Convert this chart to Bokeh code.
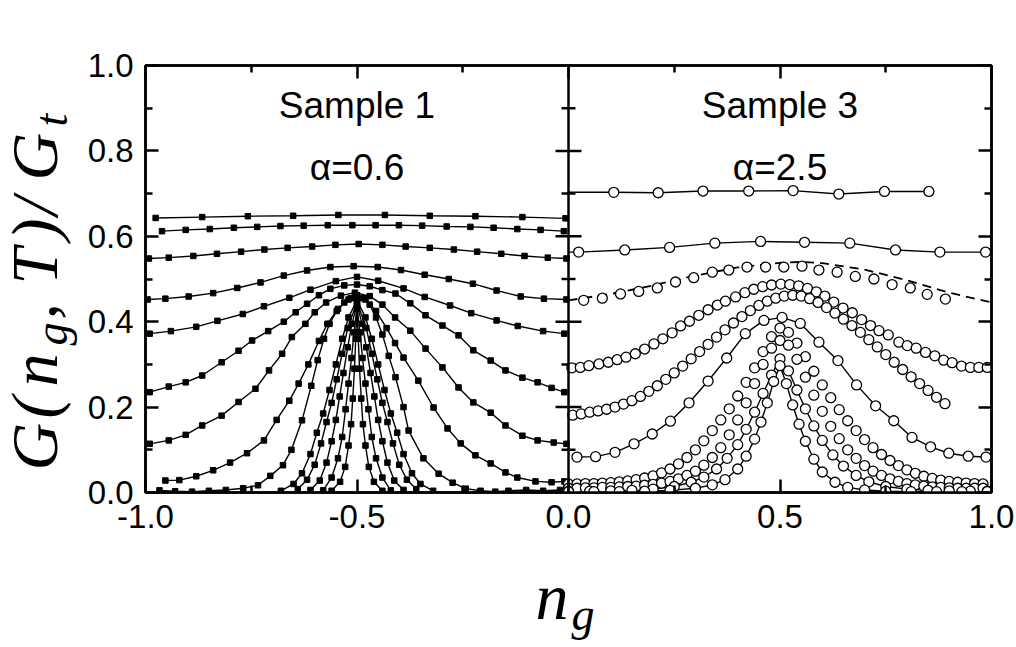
import math
from bokeh.plotting import figure
from bokeh.models import Range1d, LinearAxis, FixedTicker, PrintfTickFormatter, Span, Label
from bokeh.core.properties import value
from bokeh.embed import file_html
from bokeh.resources import INLINE

# ---------------- tick values ----------------
y_major = [0.0, 0.2, 0.4, 0.6, 0.8, 1.0]
y_minor = [0.1, 0.3, 0.5, 0.7, 0.9]
x_major = [-1.0, -0.5, 0.0, 0.5, 1.0]
x_minor = [-0.75, -0.25, 0.25, 0.75]
div_major = [0.2, 0.4, 0.6, 0.8]
div_minor = [0.1, 0.3, 0.5, 0.7, 0.9]

# ---------------- Sample 1 (alpha = 0.6), filled squares ----------------
L1_x = [-0.976, -0.866, -0.758, -0.651, -0.544, -0.434, -0.328, -0.220, -0.109, -0.007]
L1_y = [0.643, 0.645, 0.647, 0.648, 0.650, 0.650, 0.648, 0.647, 0.645, 0.642]

L2_x = [-0.961, -0.905, -0.848, -0.791, -0.736, -0.681, -0.626, -0.569, -0.511, -0.456,
        -0.401, -0.346, -0.288, -0.232, -0.177, -0.121, -0.066, -0.011]
L2_y = [0.612, 0.615, 0.617, 0.620, 0.622, 0.624, 0.625, 0.626, 0.626, 0.626,
        0.626, 0.625, 0.623, 0.622, 0.620, 0.617, 0.615, 0.612]

L3_x = [-0.992, -0.945, -0.887, -0.831, -0.774, -0.719, -0.664, -0.606, -0.551, -0.496,
        -0.440, -0.385, -0.328, -0.271, -0.216, -0.159, -0.104, -0.049, -0.005]
L3_y = [0.548, 0.550, 0.554, 0.559, 0.564, 0.569, 0.573, 0.576, 0.580, 0.582,
        0.580, 0.576, 0.573, 0.569, 0.564, 0.559, 0.554, 0.550, 0.548]

L4_x = [-0.995, -0.953, -0.898, -0.840, -0.783, -0.728, -0.673, -0.618, -0.563, -0.508,
        -0.451, -0.396, -0.340, -0.283, -0.226, -0.170, -0.113, -0.058, -0.005]
L4_y = [0.452, 0.454, 0.459, 0.467, 0.479, 0.492, 0.508, 0.520, 0.528, 0.530,
        0.528, 0.521, 0.510, 0.500, 0.489, 0.473, 0.459, 0.454, 0.452]

L5_x = [-0.99, -0.94, -0.88, -0.83, -0.77, -0.72, -0.66, -0.61, -0.55, -0.50,
        -0.45, -0.39, -0.34, -0.28, -0.23, -0.17, -0.12, -0.06, -0.01]
L5_y = [0.372, 0.378, 0.388, 0.402, 0.418, 0.436, 0.456, 0.475, 0.495, 0.505,
        0.496, 0.478, 0.458, 0.438, 0.420, 0.403, 0.390, 0.378, 0.372]

L6_x = [-0.99, -0.945, -0.905, -0.866, -0.82, -0.78, -0.748, -0.71, -0.673, -0.645,
        -0.618, -0.59, -0.563, -0.53, -0.50, -0.47, -0.44, -0.409, -0.374, -0.338,
        -0.298, -0.26, -0.225, -0.184, -0.149, -0.109, -0.073, -0.04, -0.01]
L6_y = [0.235, 0.248, 0.258, 0.274, 0.305, 0.332, 0.356, 0.378, 0.400, 0.422,
        0.442, 0.462, 0.477, 0.485, 0.487, 0.483, 0.474, 0.466, 0.443, 0.415,
        0.391, 0.368, 0.333, 0.309, 0.286, 0.269, 0.258, 0.245, 0.235]

L7_x = [-0.99, -0.945, -0.905, -0.866, -0.82, -0.78, -0.74, -0.708, -0.677, -0.654,
        -0.622, -0.60, -0.573, -0.538, -0.505, -0.47, -0.44, -0.41, -0.374, -0.338,
        -0.298, -0.26, -0.225, -0.184, -0.149, -0.109, -0.073, -0.035, -0.005]
L7_y = [0.114, 0.122, 0.135, 0.157, 0.180, 0.212, 0.243, 0.286, 0.325, 0.364,
        0.395, 0.422, 0.445, 0.461, 0.468, 0.460, 0.440, 0.410, 0.379, 0.337,
        0.293, 0.246, 0.211, 0.187, 0.157, 0.133, 0.122, 0.117, 0.114]

L8_x = [-0.953, -0.92, -0.88, -0.84, -0.80, -0.76, -0.72, -0.69, -0.66, -0.638,
        -0.615, -0.59, -0.57, -0.545, -0.52, -0.50, -0.48, -0.455, -0.43, -0.41,
        -0.39, -0.355, -0.319, -0.286, -0.255, -0.22, -0.184, -0.149, -0.121, -0.078,
        -0.04, -0.01]
L8_y = [0.028, 0.029, 0.038, 0.052, 0.070, 0.092, 0.122, 0.170, 0.215, 0.255,
        0.300, 0.355, 0.395, 0.430, 0.452, 0.462, 0.452, 0.425, 0.385, 0.350,
        0.316, 0.262, 0.199, 0.150, 0.115, 0.087, 0.068, 0.047, 0.035, 0.026,
        0.024, 0.026]

L9_x = [-0.967, -0.93, -0.89, -0.85, -0.81, -0.769, -0.734, -0.705, -0.675, -0.655,
        -0.63, -0.608, -0.593, -0.578, -0.565, -0.548, -0.53, -0.515, -0.50, -0.485,
        -0.47, -0.455, -0.44, -0.425, -0.409, -0.39, -0.378, -0.343, -0.307, -0.274,
        -0.243, -0.208, -0.173, -0.142, -0.10, -0.06, -0.02]
L9_y = [0.005, 0.003, 0.002, 0.004, 0.006, 0.010, 0.017, 0.039, 0.064, 0.100,
        0.169, 0.250, 0.310, 0.360, 0.395, 0.425, 0.445, 0.455, 0.460, 0.455,
        0.440, 0.410, 0.370, 0.320, 0.270, 0.200, 0.145, 0.080, 0.044, 0.023,
        0.009, 0.004, 0.002, 0.004, 0.006, 0.004, 0.006]

N1_x = [-0.68, -0.65, -0.63, -0.61, -0.595, -0.58, -0.565, -0.55, -0.535, -0.52, -0.50,
        -0.48, -0.465, -0.45, -0.435, -0.42, -0.405, -0.39, -0.37, -0.35, -0.32]
N1_y = [0.004, 0.020, 0.045, 0.090, 0.140, 0.185, 0.240, 0.300, 0.360, 0.410, 0.450,
        0.410, 0.360, 0.300, 0.240, 0.185, 0.140, 0.090, 0.045, 0.020, 0.004]

N2_x = [-0.64, -0.618, -0.60, -0.585, -0.572, -0.56, -0.548, -0.535, -0.522, -0.50,
        -0.478, -0.465, -0.452, -0.44, -0.428, -0.415, -0.40, -0.382, -0.36]
N2_y = [0.008, 0.030, 0.065, 0.115, 0.165, 0.210, 0.265, 0.325, 0.385, 0.445,
        0.385, 0.325, 0.265, 0.210, 0.165, 0.115, 0.065, 0.030, 0.008]

N3_x = [-0.61, -0.588, -0.572, -0.56, -0.55, -0.541, -0.532, -0.522, -0.512, -0.50,
        -0.488, -0.478, -0.468, -0.459, -0.45, -0.44, -0.428, -0.412, -0.39]
N3_y = [0.006, 0.028, 0.070, 0.120, 0.170, 0.225, 0.280, 0.340, 0.395, 0.440,
        0.395, 0.340, 0.280, 0.225, 0.170, 0.120, 0.070, 0.028, 0.006]

N4_x = [-0.58, -0.56, -0.545, -0.535, -0.527, -0.52, -0.513, -0.507, -0.50,
        -0.493, -0.487, -0.48, -0.473, -0.465, -0.455, -0.44, -0.42]
N4_y = [0.005, 0.035, 0.080, 0.130, 0.195, 0.255, 0.315, 0.375, 0.435,
        0.375, 0.315, 0.255, 0.195, 0.130, 0.080, 0.035, 0.005]

N5_x = [-0.56, -0.54, -0.528, -0.52, -0.514, -0.51, -0.506, -0.503, -0.50,
        -0.497, -0.494, -0.49, -0.486, -0.48, -0.472, -0.46, -0.44]
N5_y = [0.004, 0.025, 0.060, 0.110, 0.160, 0.220, 0.290, 0.360, 0.430,
        0.360, 0.290, 0.220, 0.160, 0.110, 0.060, 0.025, 0.004]

# ---------------- Sample 3 (alpha = 2.5), open circles ----------------
R1_x = [0.0, 0.107, 0.212, 0.318, 0.426, 0.531, 0.639, 0.747, 0.852]
R1_y = [0.703, 0.703, 0.702, 0.706, 0.706, 0.707, 0.699, 0.705, 0.705]

R2_x = [0.0, 0.024, 0.133, 0.239, 0.346, 0.454, 0.558, 0.665, 0.773, 0.878, 0.986]
R2_y = [0.563, 0.563, 0.568, 0.574, 0.584, 0.588, 0.586, 0.584, 0.568, 0.563, 0.563]

R3_x = [0.036, 0.080, 0.123, 0.166, 0.210, 0.253, 0.296, 0.340, 0.379, 0.422, 0.466,
        0.509, 0.552, 0.592, 0.635, 0.678, 0.722, 0.765, 0.808, 0.848, 0.891]
R3_y = [0.450, 0.455, 0.465, 0.471, 0.479, 0.493, 0.503, 0.516, 0.521, 0.528, 0.528,
        0.528, 0.530, 0.521, 0.516, 0.506, 0.500, 0.487, 0.479, 0.464, 0.453]

D3_x = [0.0, 0.1, 0.2, 0.3, 0.4, 0.5, 0.55, 0.6, 0.7, 0.8, 0.9, 1.0]
D3_y = [0.450, 0.465, 0.485, 0.508, 0.527, 0.538, 0.540, 0.537, 0.522, 0.497, 0.468, 0.445]

R4_x = [0.008, 0.028, 0.048, 0.072, 0.094, 0.115, 0.136, 0.158, 0.180, 0.202, 0.223,
        0.245, 0.265, 0.286, 0.308, 0.330, 0.352, 0.371, 0.395, 0.417, 0.438,
        0.459, 0.480, 0.502, 0.523, 0.544, 0.565, 0.586, 0.606, 0.627, 0.649,
        0.671, 0.693, 0.714, 0.734, 0.756, 0.781, 0.801, 0.822, 0.844, 0.866,
        0.887, 0.907, 0.929, 0.950, 0.970, 0.990]
R4_y = [0.292, 0.293, 0.297, 0.301, 0.305, 0.311, 0.317, 0.325, 0.336, 0.348, 0.360,
        0.374, 0.390, 0.401, 0.415, 0.428, 0.439, 0.448, 0.458, 0.468, 0.476,
        0.482, 0.486, 0.488, 0.487, 0.484, 0.478, 0.470, 0.460, 0.446, 0.432,
        0.421, 0.405, 0.391, 0.379, 0.369, 0.352, 0.344, 0.338, 0.328, 0.320,
        0.310, 0.304, 0.296, 0.293, 0.293, 0.293]

R5_x = [0.01, 0.03, 0.05, 0.07, 0.09, 0.11, 0.13, 0.15, 0.17, 0.19,
        0.21, 0.23, 0.25, 0.27, 0.29, 0.31, 0.33, 0.35, 0.37, 0.39,
        0.41, 0.43, 0.45, 0.47, 0.49, 0.51, 0.53, 0.55, 0.57, 0.59,
        0.61, 0.63, 0.65, 0.67, 0.69, 0.71, 0.73, 0.75, 0.77, 0.79,
        0.81, 0.83, 0.85, 0.87, 0.89]
R5_y = [0.181, 0.184, 0.188, 0.191, 0.195, 0.200, 0.207, 0.215, 0.225, 0.237,
        0.250, 0.265, 0.280, 0.296, 0.313, 0.330, 0.347, 0.364, 0.381, 0.397,
        0.412, 0.426, 0.438, 0.448, 0.455, 0.460, 0.462, 0.460, 0.454, 0.445,
        0.433, 0.420, 0.406, 0.391, 0.375, 0.358, 0.341, 0.323, 0.305, 0.288,
        0.271, 0.255, 0.239, 0.223, 0.208]

R6_x = [0.020, 0.064, 0.110, 0.155, 0.198, 0.241, 0.285, 0.330, 0.374, 0.418, 0.462,
        0.505, 0.548, 0.592, 0.637, 0.681, 0.726, 0.769, 0.812, 0.856, 0.899, 0.945, 0.987]
R6_y = [0.083, 0.084, 0.094, 0.114, 0.137, 0.167, 0.210, 0.261, 0.315, 0.372, 0.403,
        0.410, 0.396, 0.352, 0.309, 0.252, 0.203, 0.168, 0.129, 0.107, 0.092, 0.085, 0.083]

R7_x = [0.00, 0.02, 0.04, 0.06, 0.08, 0.10, 0.12, 0.14, 0.16, 0.18,
        0.20, 0.22, 0.24, 0.26, 0.28, 0.30, 0.32, 0.34, 0.36, 0.38,
        0.40, 0.42, 0.44, 0.46, 0.48, 0.50, 0.52, 0.54, 0.56, 0.58,
        0.60, 0.62, 0.64, 0.66, 0.68, 0.70, 0.72, 0.74, 0.76, 0.78,
        0.80, 0.82, 0.84, 0.86, 0.88, 0.90, 0.92, 0.94, 0.96, 0.98]
R7_y = [0.020, 0.020, 0.021, 0.021, 0.022, 0.023, 0.025, 0.027, 0.030, 0.034,
        0.039, 0.046, 0.055, 0.067, 0.082, 0.100, 0.121, 0.145, 0.170, 0.196,
        0.226, 0.258, 0.292, 0.330, 0.365, 0.385, 0.375, 0.350, 0.318, 0.284,
        0.252, 0.222, 0.194, 0.168, 0.145, 0.124, 0.105, 0.089, 0.075, 0.063,
        0.053, 0.045, 0.038, 0.033, 0.029, 0.026, 0.024, 0.022, 0.021, 0.020]

R8_x = [0.00, 0.02, 0.04, 0.06, 0.08, 0.10, 0.12, 0.14, 0.16, 0.18,
        0.20, 0.22, 0.24, 0.26, 0.28, 0.30, 0.32, 0.34, 0.36, 0.38,
        0.40, 0.42, 0.44, 0.46, 0.48, 0.50, 0.52, 0.54, 0.56, 0.58,
        0.60, 0.62, 0.64, 0.66, 0.68, 0.70, 0.72, 0.74, 0.76, 0.78,
        0.80, 0.82, 0.84, 0.86, 0.88, 0.90, 0.92, 0.94, 0.96, 0.98]
R8_y = [0.010, 0.010, 0.011, 0.011, 0.012, 0.012, 0.013, 0.014, 0.015, 0.017,
        0.019, 0.022, 0.026, 0.032, 0.040, 0.050, 0.064, 0.082, 0.105, 0.135,
        0.170, 0.210, 0.255, 0.300, 0.338, 0.356, 0.345, 0.312, 0.270, 0.228,
        0.190, 0.155, 0.126, 0.100, 0.080, 0.063, 0.050, 0.040, 0.032, 0.026,
        0.021, 0.018, 0.015, 0.013, 0.012, 0.011, 0.010, 0.010, 0.010, 0.010]

R9_x = [0.0, 0.05, 0.10, 0.15, 0.20, 0.25, 0.29, 0.32, 0.35, 0.375, 0.40, 0.42, 0.44,
        0.46, 0.48, 0.50, 0.52, 0.54, 0.56, 0.58, 0.60, 0.625, 0.65, 0.68, 0.71,
        0.75, 0.80, 0.85, 0.90, 0.95, 0.99]
R9_y = [0.003, 0.003, 0.004, 0.005, 0.008, 0.014, 0.024, 0.036, 0.055, 0.080, 0.112, 0.148, 0.188,
        0.232, 0.275, 0.313, 0.285, 0.240, 0.196, 0.156, 0.122, 0.088, 0.062, 0.040, 0.025,
        0.014, 0.008, 0.005, 0.004, 0.003, 0.003]

R10_x = [0.0, 0.06, 0.12, 0.18, 0.24, 0.30, 0.34, 0.37, 0.40, 0.42, 0.44, 0.455, 0.47,
         0.485, 0.50, 0.515, 0.53, 0.545, 0.56, 0.58, 0.60, 0.63, 0.66, 0.70, 0.75,
         0.81, 0.87, 0.93, 0.99]
R10_y = [0.002, 0.002, 0.002, 0.003, 0.005, 0.010, 0.018, 0.030, 0.055, 0.085, 0.125, 0.165, 0.210,
         0.260, 0.297, 0.255, 0.205, 0.160, 0.120, 0.078, 0.048, 0.024, 0.012, 0.006, 0.003,
         0.002, 0.002, 0.002, 0.002]

left_curves = [(L1_x, L1_y), (L2_x, L2_y), (L3_x, L3_y), (L4_x, L4_y), (L5_x, L5_y),
               (L6_x, L6_y), (L7_x, L7_y), (L8_x, L8_y), (L9_x, L9_y),
               (N1_x, N1_y), (N2_x, N2_y), (N3_x, N3_y), (N4_x, N4_y), (N5_x, N5_y)]
right_lined = [(R1_x, R1_y), (R2_x, R2_y), (R6_x, R6_y), (R9_x, R9_y), (R10_x, R10_y)]
right_dense = [(R3_x, R3_y), (R4_x, R4_y), (R5_x, R5_y), (R7_x, R7_y), (R8_x, R8_y)]

# ---------------- figure ----------------
p = figure(width=1016, height=647, x_range=Range1d(-1, 1), y_range=Range1d(0, 1),
           output_backend="svg", toolbar_location=None,
           x_axis_location=None, y_axis_location=None,
           min_border_left=145, min_border_right=25, min_border_top=65, min_border_bottom=155)
p.grid.visible = False
p.outline_line_color = "black"
p.outline_line_width = 2.5
p.background_fill_color = "white"
p.border_fill_color = "white"

def style_axis(ax, show):
    ax.axis_line_width = 2.5
    ax.axis_line_color = "black"
    ax.major_tick_in = 13
    ax.major_tick_out = 0
    ax.minor_tick_in = 7
    ax.minor_tick_out = 0
    ax.major_tick_line_width = 2.5
    ax.minor_tick_line_width = 2.5
    ax.major_tick_line_color = "black"
    ax.minor_tick_line_color = "black"
    ax.major_label_text_font = "Liberation Sans"
    ax.major_label_text_font_size = "33px" if show else "1px"
    ax.major_label_text_color = "black" if show else None
    ax.major_label_standoff = 12

yl = LinearAxis(ticker=FixedTicker(ticks=y_major, minor_ticks=y_minor),
                formatter=PrintfTickFormatter(format="%.1f"))
yr = LinearAxis(ticker=FixedTicker(ticks=y_major, minor_ticks=y_minor))
xb = LinearAxis(ticker=FixedTicker(ticks=x_major, minor_ticks=x_minor),
                formatter=PrintfTickFormatter(format="%.1f"))
xt = LinearAxis(ticker=FixedTicker(ticks=x_major, minor_ticks=x_minor))
style_axis(yl, True)
style_axis(yr, False)
style_axis(xb, True)
style_axis(xt, False)
p.add_layout(yl, "left")
p.add_layout(yr, "right")
p.add_layout(xb, "below")
p.add_layout(xt, "above")

# divider between the panels, ticks on both sides
p.add_layout(Span(location=0, dimension="height", line_color="black", line_width=2.5))
p.scatter([0.0] * len(div_major), div_major, marker="dash", size=26,
          line_color="black", line_width=2.5)
p.scatter([0.0] * len(div_minor), div_minor, marker="dash", size=14,
          line_color="black", line_width=2.5)

# left panel
for xs, ys in left_curves:
    p.line(xs, ys, line_color="black", line_width=1.4)
for xs, ys in left_curves:
    p.scatter(xs, ys, marker="square", size=5.5, fill_color="black", line_color="black")

# right panel
CIRC = dict(marker="circle", size=10, fill_color="white", line_color="black", line_width=1.3)
p.line(D3_x, D3_y, line_color="black", line_width=1.8, line_dash="9 6")
for xs, ys in right_lined:
    p.line(xs, ys, line_color="black", line_width=1.4)
p.scatter(R1_x[1:], R1_y[1:], **CIRC)
p.scatter(R2_x[1:], R2_y[1:], **CIRC)
for xs, ys in right_dense + right_lined[2:]:
    p.scatter(xs, ys, **CIRC)

# panel annotations (inside the frame)
for tx, ty, txt in [(-0.5, 0.906, "Sample 1"), (-0.5, 0.760, "\u03b1=0.6"),
                    (0.5, 0.906, "Sample 3"), (0.5, 0.760, "\u03b1=2.5")]:
    p.add_layout(Label(x=tx, y=ty, text=txt, text_align="center", text_baseline="alphabetic",
                       text_font="Liberation Sans", text_font_size="37px", text_color="black"))

# axis titles: text glyphs on an unclipped level, outside the frame
def math_text(xs, ys, texts, size, angle):
    p.text(x=xs, y=ys, text=texts, angle=angle, text_align="left", text_baseline="middle",
           text_font=value("Liberation Serif"), text_font_style="italic",
           text_font_size=value(size), text_color="black", level="annotation")

# y title  G(n_g, T)/G_t, read bottom to top
math_text([-1.2624] * 8, [0.0515, 0.1733, 0.2482, 0.4051, 0.4871, 0.5902, 0.6487, 0.7307],
          ["G", "(", "n", ",", "T", ")", "/", "G"], "66px", math.pi / 2)
math_text([-1.2222] * 2, [0.3443, 0.8571], ["g", "t"], "46px", math.pi / 2)
# x title  n_g
math_text([-0.0780], [-0.2436], ["n"], "66px", 0.0)
math_text([0.0071], [-0.2857], ["g"], "46px", 0.0)

open("out.html", "w").write(file_html(p, INLINE))
